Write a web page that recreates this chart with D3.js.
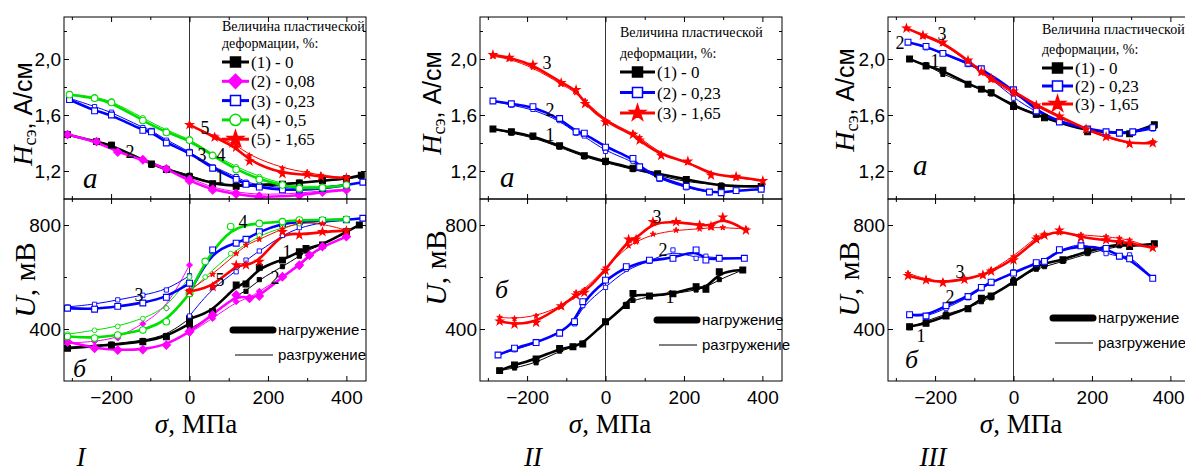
<!DOCTYPE html>
<html>
<head>
<meta charset="utf-8">
<script src="https://d3js.org/d3.v7.min.js"></script>
<style>
  body { margin: 0; background: #fff; }
  .serif { font-family: "Liberation Serif", "Times New Roman", serif; }
  .sans { font-family: "Liberation Sans", Arial, sans-serif; }
</style>
</head>
<body>
<svg id="chart" width="1185" height="471"></svg>
<script>
"use strict";

// ---------- data: rows are [sigma MPa, loading, unloading] ----------
var sigmaTicks = [-300, -200, -100, 0, 100, 200, 300, 400];
var sigmaLabels = [-200, 0, 200, 400];
var hTicks = [1.2, 1.4, 1.6, 1.8, 2.0, 2.2];
var hLabels = [1.2, 1.6, 2.0];
var uTicks = [400, 600, 800];
var uLabels = [400, 800];

var legendI = ["(1) - 0", "(2) - 0,08", "(3) - 0,23", "(4) - 0,5", "(5) - 1,65"];
var legendII = ["(1) - 0", "(2) - 0,23", "(3) - 1,65"];

// panel I, a : H (A/cm)
var hI1 = [[-311,1.46,1.46],[-237,1.41,1.41],[-199,1.385,1.39],[-97,1.25,1.24],[-59,1.21,1.22],[0,1.16,1.17],[59,1.11,1.11],[119,1.09,1.10],[237,1.105,1.11],[280,1.115,1.12],[339,1.13,1.13],[400,1.145,1.14],[438,1.17,1.16]];
var hI2 = [[-311,1.46,1.46],[-237,1.41,1.41],[-183,1.335,1.34],[-119,1.28,1.29],[-59,1.215,1.22],[0,1.13,1.15],[59,1.065,1.08],[119,1.035,1.05],[178,1.01,1.03],[280,1.025,1.04],[339,1.05,1.06],[400,1.065,1.07]];
var hI3 = [[-306,1.71,1.72],[-242,1.63,1.66],[-199,1.60,1.62],[-119,1.49,1.51],[-97,1.48,1.49],[-59,1.40,1.42],[0,1.33,1.34],[59,1.22,1.23],[119,1.14,1.16],[144,1.105,1.12],[178,1.085,1.10],[237,1.065,1.08],[280,1.065,1.075],[339,1.075,1.085],[400,1.10,1.10],[442,1.12,1.12]];
var hI4 = [[-306,1.745,1.75],[-242,1.72,1.73],[-199,1.69,1.70],[-119,1.56,1.58],[-59,1.475,1.49],[0,1.42,1.43],[59,1.31,1.32],[119,1.21,1.23],[178,1.14,1.16],[237,1.10,1.11],[280,1.075,1.09],[339,1.08,1.09],[400,1.10,1.10]];
var hI5 = [[0,1.53,1.53],[64,1.44,1.45],[119,1.37,1.39],[153,1.27,1.31],[237,1.18,1.22],[300,1.175,1.19],[335,1.16,1.17],[400,1.15,1.15]];

// panel I, b : U (mV); a repeated 0 row splits compression / tension branches
var uI1 = [[-311,326,330],[-199,338,342],[-119,351,356],[-59,370,375],[0,420,440],[0,440,400],[59,466,450],[119,569,530],[144,573,545],[178,637,590],[237,665,640],[280,697,680],[297,710,700],[339,723,725],[400,774,770],[433,800,800]];
var uI2 = [[-311,351,345],[-242,326,352],[-183,319,365],[-119,321,420],[-59,338,480],[0,390,646],[0,390,385],[59,454,440],[119,531,505],[153,518,520],[178,527,545],[237,601,600],[280,646,640],[306,684,680],[339,717,715],[400,755,755]];
var uI3 = [[-311,480,485],[-242,476,495],[-183,487,512],[-119,500,530],[-59,522,550],[0,576,605],[0,540,450],[59,704,560],[119,730,620],[144,745,665],[178,774,700],[237,806,760],[280,812,790],[339,817,810],[400,820,820],[442,826,826]];
var uI4 = [[-311,371,380],[-242,365,395],[-183,377,410],[-119,396,440],[-59,428,480],[0,537,600],[0,537,540],[40,660,600],[105,794,690],[178,806,760],[237,813,790],[280,819,805],[339,819,815],[400,822,822]];
var uI5 = [[0,544,550],[59,562,610],[119,646,690],[144,646,723],[178,659,745],[237,774,785],[280,761,812],[339,774,805],[400,778,780]];

// panel II
var hII1 = [[-287,1.50,1.50],[-240,1.48,1.47],[-185,1.45,1.44],[-117,1.38,1.37],[-54,1.31,1.30],[0,1.27,1.26],[70,1.22,1.21],[133,1.18,1.17],[206,1.14,1.12],[295,1.09,1.10],[397,1.09,1.09]];
var hII2 = [[-287,1.70,1.70],[-240,1.68,1.67],[-185,1.66,1.64],[-117,1.575,1.56],[-75,1.48,1.47],[-54,1.47,1.45],[0,1.37,1.34],[70,1.29,1.27],[87,1.23,1.22],[138,1.15,1.14],[206,1.09,1.08],[265,1.05,1.045],[295,1.045,1.05],[333,1.06,1.06],[397,1.07,1.07]];
var hII3 = [[-287,2.03,2.02],[-245,2.01,2.00],[-185,1.96,1.94],[-113,1.83,1.82],[-75,1.78,1.76],[-52,1.68,1.70],[0,1.55,1.56],[70,1.46,1.47],[87,1.42,1.44],[142,1.31,1.32],[210,1.27,1.26],[269,1.17,1.18],[333,1.16,1.15],[401,1.13,1.13]];
var uII1 = [[-270,240,240],[-232,262,250],[-177,285,270],[-117,325,315],[-83,332,330],[-58,342,345],[0,428,425],[53,490,495],[70,537,510],[112,527,525],[172,535,535],[231,563,550],[256,553,560],[290,620,590],[350,627,627]];
var uII2 = [[-274,300,300],[-232,326,320],[-177,348,345],[-117,384,390],[-79,428,420],[-58,505,490],[0,588,560],[53,640,630],[112,665,660],[172,672,704],[231,704,672],[256,665,680],[290,672,672],[354,672,672]];
var uII3 = [[-270,430,445],[-232,418,440],[-177,425,450],[-113,488,485],[-75,530,540],[-54,540,550],[0,625,635],[59,745,720],[78,745,735],[121,812,765],[180,812,780],[240,800,785],[269,795,790],[299,830,790],[358,780,785]];

// panel III
var hIII1 = [[-265,2.00,2.00],[-223,1.95,1.96],[-180,1.92,1.89],[-116,1.82,1.82],[-82,1.785,1.78],[-57,1.76,1.75],[0,1.66,1.68],[58,1.605,1.60],[79,1.58,1.59],[189,1.48,1.49],[270,1.475,1.47],[296,1.465,1.47],[359,1.53,1.52]];
var hIII2 = [[-269,2.12,2.12],[-223,2.09,2.08],[-180,2.04,2.04],[-116,1.97,1.96],[-82,1.93,1.92],[0,1.78,1.72],[58,1.63,1.62],[117,1.55,1.56],[189,1.50,1.50],[236,1.48,1.47],[270,1.47,1.48],[304,1.48,1.47],[355,1.51,1.50]];
var hIII3 = [[-273,2.22,2.22],[-231,2.17,2.16],[-180,2.12,2.11],[-116,1.99,1.98],[-82,1.91,1.90],[-57,1.86,1.85],[0,1.77,1.75],[58,1.67,1.66],[117,1.59,1.58],[185,1.50,1.49],[236,1.445,1.44],[296,1.395,1.39],[355,1.40,1.41]];
var uIII1 = [[-265,409,405],[-223,422,430],[-172,450,458],[-116,478,480],[-82,518,505],[-57,527,520],[0,580,590],[58,640,630],[79,653,640],[126,666,660],[189,700,690],[270,728,720],[296,717,720],[359,728,728]];
var uIII2 = [[-265,455,455],[-223,450,445],[-172,490,480],[-116,525,520],[-82,560,555],[-57,580,575],[0,615,620],[58,655,650],[79,660,655],[117,705,700],[172,720,736],[236,710,690],[270,680,678],[296,670,685],[355,595,595]];
var uIII3 = [[-269,605,614],[-223,588,591],[-180,578,582],[-125,590,595],[-78,608,605],[-57,622,627],[0,665,678],[58,745,755],[79,760,765],[117,780,770],[172,752,762],[236,742,755],[270,735,749],[296,730,742],[355,712,712]];

// ---------- styles ----------
var sBlack = {color: "#000", shape: "square", filled: true};
var sMag = {color: "#ff00ff", shape: "diamond", filled: true};
var sBlue = {color: "#0000ff", shape: "square", filled: false};
var sGreen = {color: "#00e000", shape: "circle", filled: false};
var sRed = {color: "#ff0000", shape: "star", filled: true};

var panels = [
  { left: 64, roman: "I", romanX: 81, sigmaX: 196,
    series: [[hI1, uI1, sBlack], [hI2, uI2, sMag], [hI3, uI3, sBlue], [hI4, uI4, sGreen], [hI5, uI5, sRed]],
    legend: {x: 222, t1: 31, t2: 48, y0: 62, dy: 19.3, w: 27, names: legendI},
    load: {x: 233, y: 330},
    hT: [32, 114], uT: [35, 280], aL: [83, 188], bL: [73, 377],
    hNums: [["2",130,152],["3",202,155],["4",221,155],["1",220,177],["5",205,128]],
    uNums: [["3",139,295],["4",243,222],["5",220,280],["1",287,252],["2",275,278]] },
  { left: 480, roman: "II", romanX: 533, sigmaX: 610,
    series: [[hII1, uII1, sBlack], [hII2, uII2, sBlue], [hII3, uII3, sRed]],
    legend: {x: 620, t1: 37, t2: 58, y0: 72, dy: 20.5, w: 35, names: legendII},
    load: {x: 657, y: 320},
    hT: [441, 103], uT: [446, 268], aL: [500, 187], bL: [495, 298],
    hNums: [["3",547,63],["2",550,110],["1",550,135]],
    uNums: [["3",657,217],["2",663,250],["1",670,297]] },
  { left: 888, roman: "III", romanX: 933, sigmaX: 1021,
    series: [[hIII1, uIII1, sBlack], [hIII2, uIII2, sBlue], [hIII3, uIII3, sRed]],
    legend: {x: 1042, t1: 34, t2: 54, y0: 68, dy: 18, w: 31, names: legendII},
    load: {x: 1053, y: 318},
    hT: [854, 100], uT: [859, 279], aL: [913, 175], bL: [905, 368],
    hNums: [["2",900,43],["3",942,34],["1",935,61]],
    uNums: [["3",960,272],["2",950,297],["1",921,336]] }
];

var svg = d3.select("#chart");
svg.append("rect").attr("width", 1185).attr("height", 471).attr("fill", "#fff");

var plotTop = 17, plotMid = 199, plotBottom = 381, plotW = 302, pageW = 1185;
var comma = function (d) { return d3.format(".1f")(d).replace(".", ","); };

function symPath(shape, size) {
  var t = shape === "circle" ? d3.symbolCircle : shape === "star" ? d3.symbolStar : d3.symbolSquare;
  return d3.symbol().type(t).size(size)();
}

function addMarker(g, cx, cy, s, size, sw) {
  g.append("path")
    .attr("d", symPath(s.shape, size))
    .attr("transform", "translate(" + cx + "," + cy + ")" + (s.shape === "diamond" ? " rotate(45)" : ""))
    .attr("fill", s.filled ? s.color : "#fff")
    .attr("stroke", s.color)
    .attr("stroke-width", sw);
}

function branches(rows) {
  var z = [];
  rows.forEach(function (r, i) { if (r[0] === 0) z.push(i); });
  if (z.length < 2) return [rows];
  return [rows.slice(0, z[0] + 1), rows.slice(z[z.length - 1])];
}

function styleAxis(g, labelFont) {
  g.select(".domain").remove();
  g.selectAll("line").attr("stroke", "#000");
  g.selectAll("text").attr("font-family", '"Liberation Sans", Arial, sans-serif')
    .attr("font-size", labelFont).attr("fill", "#000");
}

function frame(g, x, y, y0, y1, yTicks, yLabels, fmt, withX) {
  var x0 = x.range()[0], x1 = x.range()[1];
  var minorX = sigmaTicks.filter(function (d) { return sigmaLabels.indexOf(d) < 0; });
  var minorY = yTicks.filter(function (d) { return yLabels.indexOf(d) < 0; });
  [[minorX, 3], [sigmaLabels, 5]].forEach(function (p, k) {
    var b = g.append("g").attr("transform", "translate(0," + y1 + ")")
      .call(d3.axisBottom(x).tickValues(p[0]).tickSize(-p[1]).tickPadding(10)
        .tickFormat(withX && k === 1 ? d3.format("d") : ""));
    styleAxis(b, 19);
    // keep the last label inside the page
    b.selectAll(".tick text").each(function (d) {
      var w = this.getComputedTextLength();
      if (x(d) + w / 2 > pageW - 1) d3.select(this).attr("x", pageW - 1 - w / 2 - x(d));
    });
    var t = g.append("g").attr("transform", "translate(0," + y0 + ")")
      .call(d3.axisTop(x).tickValues(p[0]).tickSize(-p[1]).tickFormat(""));
    styleAxis(t, 19);
  });
  [[minorY, 3], [yLabels, 5]].forEach(function (p, k) {
    var l = g.append("g").attr("transform", "translate(" + x0 + ",0)")
      .call(d3.axisLeft(y).tickValues(p[0]).tickSize(-p[1]).tickPadding(3)
        .tickFormat(k === 1 ? fmt : ""));
    styleAxis(l, 19);
    var r = g.append("g").attr("transform", "translate(" + x1 + ",0)")
      .call(d3.axisRight(y).tickValues(p[0]).tickSize(-p[1]).tickFormat(""));
    styleAxis(r, 19);
  });
  g.append("rect").attr("x", x0).attr("y", y0).attr("width", x1 - x0).attr("height", y1 - y0)
    .attr("fill", "none").attr("stroke", "#000").attr("stroke-width", 1);
}

function drawCurves(g, x, y, list, clipId) {
  var gc = g.append("g").attr("clip-path", "url(#" + clipId + ")");
  var lines = [[2, 1], [1, 2.6]];
  lines.forEach(function (lw) {
    list.forEach(function (sr) {
      var rows = sr[0], s = sr[1];
      var line = d3.line().x(function (d) { return x(d[0]); })
        .y(function (d) { return y(d[lw[0]]); }).curve(d3.curveBasis);
      branches(rows).forEach(function (b) {
        gc.append("path").attr("d", line(b)).attr("fill", "none")
          .attr("stroke", s.color).attr("stroke-width", lw[1]);
      });
    });
  });
  list.forEach(function (sr) {
    var rows = sr[0], s = sr[1];
    rows.forEach(function (d) { addMarker(gc, x(d[0]), y(d[2]), s, s.shape === "star" ? 10 : 18, 0.9); });
    rows.forEach(function (d) { addMarker(gc, x(d[0]), y(d[1]), s, s.shape === "star" ? 18 : 34, 1.1); });
  });
}

function drawPanel(p, pi) {
  var g = svg.append("g");
  var x = d3.scaleLinear().domain([-320, 450]).range([p.left, p.left + plotW]);
  var yH = d3.scaleLinear().domain([1.0, 2.3]).range([plotMid, plotTop]);
  var yU = d3.scaleLinear().domain([200, 900]).range([plotBottom, plotMid]);

  [["a", plotTop, plotMid], ["b", plotMid, plotBottom]].forEach(function (c) {
    svg.append("clipPath").attr("id", "clip" + pi + c[0]).append("rect")
      .attr("x", p.left).attr("y", c[1]).attr("width", plotW).attr("height", c[2] - c[1]);
  });

  // zero stress line
  g.append("line").attr("x1", x(0)).attr("x2", x(0)).attr("y1", plotTop).attr("y2", plotBottom)
    .attr("stroke", "#000").attr("stroke-width", 0.8);

  drawCurves(g, x, yH, p.series.map(function (s) { return [s[0], s[2]]; }), "clip" + pi + "a");
  drawCurves(g, x, yU, p.series.map(function (s) { return [s[1], s[2]]; }), "clip" + pi + "b");

  frame(g, x, yH, plotTop, plotMid, hTicks, hLabels, comma, false);
  frame(g, x, yU, plotMid, plotBottom, uTicks, uLabels, d3.format("d"), true);

  // axis titles
  var ht = g.append("text").attr("class", "serif").attr("text-anchor", "middle")
    .attr("transform", "translate(" + p.hT[0] + "," + p.hT[1] + ") rotate(-90)");
  ht.append("tspan").attr("font-style", "italic").attr("font-size", 28).text("H");
  ht.append("tspan").attr("font-size", 18).attr("dy", 4).text("сэ");
  ht.append("tspan").attr("font-size", 25).attr("dy", -4).attr("class", "sans").text(", А/см");

  var ut = g.append("text").attr("class", "serif").attr("text-anchor", "middle")
    .attr("transform", "translate(" + p.uT[0] + "," + p.uT[1] + ") rotate(-90)");
  ut.append("tspan").attr("font-style", "italic").attr("font-size", 30).text("U");
  ut.append("tspan").attr("font-size", 30).text(", мВ");

  var st = g.append("text").attr("class", "serif").attr("text-anchor", "middle")
    .attr("x", p.sigmaX).attr("y", 433).attr("font-size", 27);
  st.append("tspan").attr("font-style", "italic").text("σ");
  st.append("tspan").text(", МПа");

  g.append("text").attr("class", "serif").attr("font-style", "italic").attr("font-size", 27)
    .attr("text-anchor", "middle").attr("x", p.romanX).attr("y", 466).text(p.roman);

  g.append("text").attr("class", "serif").attr("font-style", "italic").attr("font-size", 29)
    .attr("x", p.aL[0]).attr("y", p.aL[1]).text("а");
  g.append("text").attr("class", "serif").attr("font-style", "italic").attr("font-size", 26)
    .attr("x", p.bL[0]).attr("y", p.bL[1]).text("б");

  p.hNums.concat(p.uNums).forEach(function (n) {
    g.append("text").attr("class", "serif").attr("font-size", 18).attr("text-anchor", "middle")
      .attr("dominant-baseline", "central").attr("x", n[1]).attr("y", n[2]).text(n[0]);
  });

  // deformation legend
  var L = p.legend;
  g.append("text").attr("class", "serif").attr("font-size", 14).attr("x", L.x).attr("y", L.t1).text("Величина пластической");
  g.append("text").attr("class", "serif").attr("font-size", 14).attr("x", L.x).attr("y", L.t2).text("деформации, %:");
  L.names.forEach(function (name, i) {
    var s = p.series[i][2], cy = L.y0 + i * L.dy;
    g.append("line").attr("x1", L.x).attr("x2", L.x + L.w).attr("y1", cy).attr("y2", cy)
      .attr("stroke", s.color).attr("stroke-width", 3);
    addMarker(g, L.x + L.w / 2, cy, s, s.shape === "star" ? 80 : 100, 1.5);
    g.append("text").attr("class", "serif").attr("font-size", 17).attr("x", L.x + L.w + 2)
      .attr("y", cy + 6).text(name);
  });

  // loading / unloading legend
  var D = p.load;
  g.append("line").attr("x1", D.x).attr("x2", D.x + 40).attr("y1", D.y).attr("y2", D.y)
    .attr("stroke", "#000").attr("stroke-width", 7).attr("stroke-linecap", "round");
  g.append("text").attr("class", "sans").attr("font-size", 15).attr("x", D.x + 45).attr("y", D.y + 5).text("нагружение");
  g.append("line").attr("x1", D.x + 2).attr("x2", D.x + 40).attr("y1", D.y + 25).attr("y2", D.y + 25)
    .attr("stroke", "#000").attr("stroke-width", 1);
  g.append("text").attr("class", "sans").attr("font-size", 15).attr("x", D.x + 45).attr("y", D.y + 30).text("разгружение");
}

panels.forEach(drawPanel);
</script>
</body>
</html>
